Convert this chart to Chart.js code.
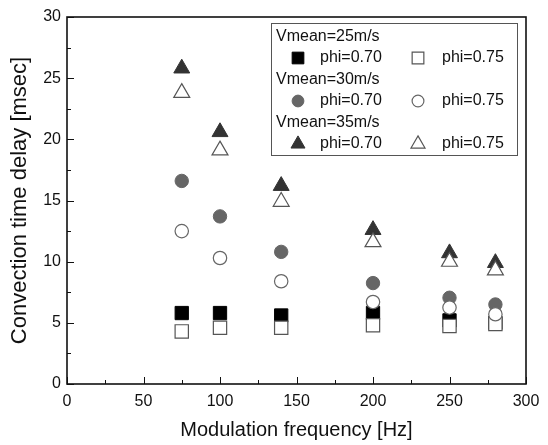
<!DOCTYPE html>
<html>
<head>
<meta charset="utf-8">
<script src="https://cdn.jsdelivr.net/npm/chart.js@4/dist/chart.umd.min.js"></script>
<style>
  html, body { margin: 0; padding: 0; background: #fff; }
  #wrap { width: 548px; height: 445px; }
</style>
</head>
<body>
<div id="wrap"><canvas id="chart" width="548" height="445"></canvas></div>
<script>
// Modulation frequencies [Hz]
const freqs = [75, 100, 140, 200, 250, 280];

// Convection time delay [msec]
const v25phi70 = [5.8, 5.8, 5.6, 5.8, 5.2, 5.0];
const v25phi75 = [4.3, 4.6, 4.6, 4.8, 4.75, 4.9];
const v30phi70 = [16.6, 13.7, 10.8, 8.25, 7.05, 6.5];
const v30phi75 = [12.5, 10.3, 8.4, 6.7, 6.25, 5.7];
const v35phi70 = [25.8, 20.6, 16.2, 12.6, 10.7, 9.9];
const v35phi75 = [23.8, 19.1, 14.9, 11.6, 10.0, 9.3];

const FONT = "'Liberation Sans', Arial, sans-serif";

function pts(ys) {
  return freqs.map((x, i) => ({ x, y: ys[i] }));
}

// marker styles, also used by the legend
const STYLES = {
  sqFill:  { pointStyle: 'rect',     radius: 9.4, bg: '#000', border: '#000', bw: 1 },
  sqOpen:  { pointStyle: 'rect',     radius: 9.4, bg: '#fff', border: '#555', bw: 1.2 },
  ciFill:  { pointStyle: 'circle',   radius: 6.7, bg: '#666', border: '#666', bw: 1 },
  ciOpen:  { pointStyle: 'circle',   radius: 6.7, bg: '#fff', border: '#666', bw: 1.2 },
  trFill:  { pointStyle: 'triangle', radius: 9.2, bg: '#333', border: '#333', bw: 1 },
  trOpen:  { pointStyle: 'triangle', radius: 9.2, bg: '#fff', border: '#555', bw: 1.2 }
};

function ds(label, ys, st, order) {
  const s = STYLES[st];
  return {
    label,
    data: pts(ys),
    pointStyle: s.pointStyle,
    pointRadius: s.radius,
    pointHoverRadius: s.radius,
    backgroundColor: s.bg,
    borderColor: s.border,
    pointBorderWidth: s.bw,
    showLine: false,
    order
  };
}

// frame + inward ticks
const frameTicks = {
  id: 'frameTicks',
  afterDraw(chart) {
    const { ctx, chartArea: a, scales } = chart;
    ctx.save();
    ctx.strokeStyle = '#111';
    ctx.lineWidth = 1;
    const xs = scales.x, ys = scales.y;
    for (let v = 0; v <= 300; v += 25) {
      const px = Math.round(xs.getPixelForValue(v)) + 0.5;
      const len = v % 50 === 0 ? 7 : 4;
      ctx.beginPath();
      ctx.moveTo(px, a.bottom);
      ctx.lineTo(px, a.bottom - len);
      ctx.stroke();
    }
    for (let v = 0; v <= 30; v += 2.5) {
      const py = Math.round(ys.getPixelForValue(v)) + 0.5;
      const len = v % 5 === 0 ? 7 : 4;
      ctx.beginPath();
      ctx.moveTo(a.left, py);
      ctx.lineTo(a.left + len, py);
      ctx.stroke();
    }
    ctx.lineWidth = 1.6;
    ctx.strokeRect(a.left, a.top, a.right - a.left, a.bottom - a.top);
    ctx.restore();
  }
};

// two-column legend box
const legendBox = {
  id: 'legendBox',
  afterDraw(chart) {
    const ctx = chart.ctx;
    const box = { x: 271, y: 23, w: 246, h: 132 };
    ctx.save();
    ctx.fillStyle = '#fff';
    ctx.fillRect(box.x, box.y, box.w, box.h);
    ctx.strokeStyle = '#555';
    ctx.lineWidth = 1;
    ctx.strokeRect(box.x + 0.5, box.y + 0.5, box.w, box.h);

    const rows = [
      { head: 'Vmean=25m/s', a: 'sqFill', b: 'sqOpen' },
      { head: 'Vmean=30m/s', a: 'ciFill', b: 'ciOpen' },
      { head: 'Vmean=35m/s', a: 'trFill', b: 'trOpen' }
    ];
    ctx.font = '16px ' + FONT;
    ctx.textBaseline = 'middle';
    ctx.textAlign = 'left';
    rows.forEach((r, i) => {
      const yH = 37 + i * 43;
      const yP = yH + 21;
      ctx.fillStyle = '#111';
      ctx.fillText(r.head, 276, yH);
      ctx.fillText('phi=0.70', 320, yP);
      ctx.fillText('phi=0.75', 442, yP);
      [[r.a, 298], [r.b, 418]].forEach(([k, x]) => {
        const s = STYLES[k];
        ctx.fillStyle = s.bg;
        ctx.strokeStyle = s.border;
        ctx.lineWidth = s.bw;
        Chart.helpers.drawPoint(ctx, {
          pointStyle: s.pointStyle,
          radius: s.radius * 0.88,
          rotation: 0,
          borderWidth: s.bw
        }, x, yP);
      });
    });
    ctx.restore();
  }
};

new Chart(document.getElementById('chart'), {
  type: 'scatter',
  data: {
    datasets: [
      ds('Vmean=25m/s phi=0.70', v25phi70, 'sqFill', 6),
      ds('Vmean=25m/s phi=0.75', v25phi75, 'sqOpen', 5),
      ds('Vmean=30m/s phi=0.70', v30phi70, 'ciFill', 4),
      ds('Vmean=30m/s phi=0.75', v30phi75, 'ciOpen', 3),
      ds('Vmean=35m/s phi=0.70', v35phi70, 'trFill', 2),
      ds('Vmean=35m/s phi=0.75', v35phi75, 'trOpen', 1)
    ]
  },
  options: {
    responsive: false,
    animation: false,
    layout: { padding: { top: 17, right: 22, left: 0, bottom: 0 } },
    plugins: {
      legend: { display: false },
      tooltip: { enabled: false }
    },
    scales: {
      x: {
        type: 'linear',
        min: 0, max: 300,
        grid: { display: false, drawTicks: false },
        border: { display: false },
        ticks: { stepSize: 50, padding: 8, color: '#111', font: { family: FONT, size: 16 } },
        title: {
          display: true,
          text: 'Modulation frequency [Hz]',
          color: '#111',
          font: { family: FONT, size: 20 },
          padding: { top: 0, bottom: 3 }
        },
        afterFit(scale) { scale.height = 61; }
      },
      y: {
        type: 'linear',
        min: 0, max: 30,
        grid: { display: false, drawTicks: false },
        border: { display: false },
        ticks: { stepSize: 5, padding: 6, color: '#111', font: { family: FONT, size: 16 } },
        title: {
          display: true,
          text: 'Convection time delay [msec]',
          color: '#111',
          font: { family: FONT, size: 22 },
          padding: { top: 7, bottom: 0 }
        },
        afterFit(scale) { scale.width = 67; }
      }
    }
  },
  plugins: [frameTicks, legendBox]
});
</script>
</body>
</html>
